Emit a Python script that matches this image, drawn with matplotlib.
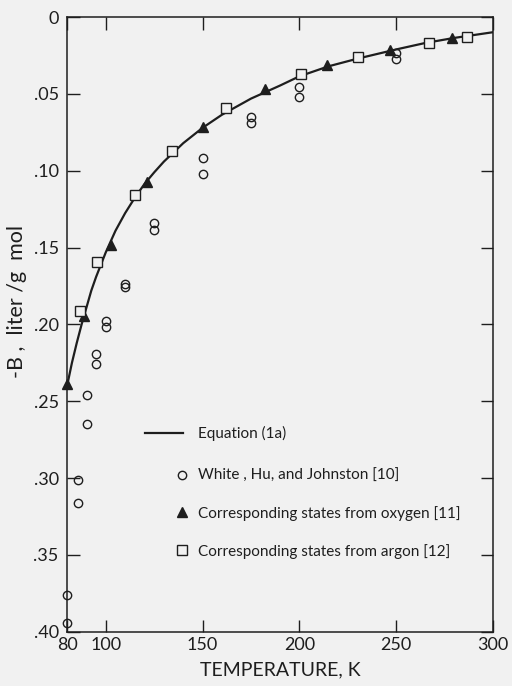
import numpy as np
import matplotlib.pyplot as plt

# ------------------------------------------
# DATA
# Equation (1a) curve
curveT = [80, 82.5, 85, 87.5, 90, 92.5, 95, 97.5, 100, 105, 110, 115, 120,
          125, 130, 140, 150, 160, 175, 190, 200, 215, 230, 250, 265, 280, 300]
curveB = [0.240, 0.225, 0.212, 0.200, 0.189, 0.178, 0.169, 0.161, 0.153,
          0.139, 0.1275, 0.1175, 0.1085, 0.101, 0.094, 0.082, 0.072, 0.0635,
          0.053, 0.0445, 0.0385, 0.0320, 0.027, 0.021, 0.0168, 0.0135, 0.0098]

# White, Hu, and Johnston [10]
whiteT = [80, 80, 85.5, 85.5, 90.4, 90.4, 94.9, 94.9, 100.3, 100.3, 110, 110,
          125, 125, 150, 150, 175, 175, 200, 200, 250, 250]
whiteB = [0.376, 0.394, 0.301, 0.3165, 0.246, 0.265, 0.219, 0.2255, 0.198,
          0.2017, 0.1736, 0.1758, 0.134, 0.1383, 0.0918, 0.102, 0.0647,
          0.0686, 0.0453, 0.0517, 0.0236, 0.0273]

# Corresponding states from oxygen [11]
oxygenT = [80, 88.7, 102.9, 121.5, 150, 182.4, 214, 246.7, 278.9]
oxygenB = [0.239, 0.1946, 0.148, 0.1076, 0.0712, 0.047, 0.0312, 0.0214, 0.0138]

# Corresponding states from argon [12]
argonT = [86.7, 95.7, 114.9, 134, 162.2, 200.7, 230.3, 267, 286.7]
argonB = [0.191, 0.1595, 0.1156, 0.087, 0.0593, 0.037, 0.0262, 0.0171, 0.0132]

xTicks = [80, 100, 150, 200, 250, 300]
yTicks = [0, 0.05, 0.10, 0.15, 0.20, 0.25, 0.30, 0.35, 0.40]
yTickLabels = ['0', '.05', '.10', '.15', '.20', '.25', '.30', '.35', '.40']

# ------------------------------------------
# BUILD THE CHART
bg = '#f1f1f1'
ink = '#1e1e1e'
plt.rcParams['font.family'] = ['Lato', 'DejaVu Sans']

fig = plt.figure(figsize=(5.12, 6.86), dpi=100, facecolor=bg)
ax = fig.add_axes([0.131, 0.079, 0.832, 0.896], facecolor=bg)

line, = ax.plot(curveT, curveB, color=ink, lw=1.6, label='Equation (1a)')
circ, = ax.plot(whiteT, whiteB, 'o', ms=6, mfc='none', mec=ink, mew=1.0,
                label='White , Hu, and Johnston [10]', clip_on=False)
tri, = ax.plot(oxygenT, oxygenB, '^', ms=7.5, color=ink,
               label='Corresponding states from oxygen [11]', clip_on=False)
sq, = ax.plot(argonT, argonB, 's', ms=6.5, mfc=bg, mec=ink, mew=1.0,
              label='Corresponding states from argon [12]', clip_on=False)

ax.set_xlim(80, 300)
ax.set_ylim(0.40, 0)  # -B increases downward
ax.set_xticks(xTicks)
ax.set_xticklabels([str(t) for t in xTicks], fontsize=13)
ax.set_yticks(yTicks)
ax.set_yticklabels(yTickLabels, fontsize=13)
ax.tick_params(direction='in', length=9, width=1.0, color=ink, labelcolor=ink,
               top=True, right=True, pad=4)
ax.tick_params(axis='y', pad=6)
for s in ax.spines.values():
    s.set_color(ink)
    s.set_linewidth(1.1)

ax.set_xlabel('TEMPERATURE, K', fontsize=14, color=ink, labelpad=6)
ax.set_ylabel('-B ,  liter /g  mol', fontsize=15.5, color=ink)
ax.yaxis.set_label_coords(-0.095, 0.537)

# legend: line entry on its own, marker entries with the marker at the
# right end of the line sample
legLine = ax.legend(handles=[line], loc='center left',
                    bbox_to_anchor=(0.183, 0.322), frameon=False, fontsize=11,
                    borderpad=0, borderaxespad=0, handlelength=2.5,
                    handletextpad=0.95, labelcolor=ink)
ax.add_artist(legLine)
ax.legend(handles=[circ, tri, sq], loc='center left',
          bbox_to_anchor=(0.26, 0.192), frameon=False, fontsize=11,
          borderpad=0, borderaxespad=0, handlelength=0.6, handletextpad=0.7,
          labelspacing=1.5, numpoints=1, labelcolor=ink)

plt.savefig('out.png', dpi=100, facecolor=bg)
